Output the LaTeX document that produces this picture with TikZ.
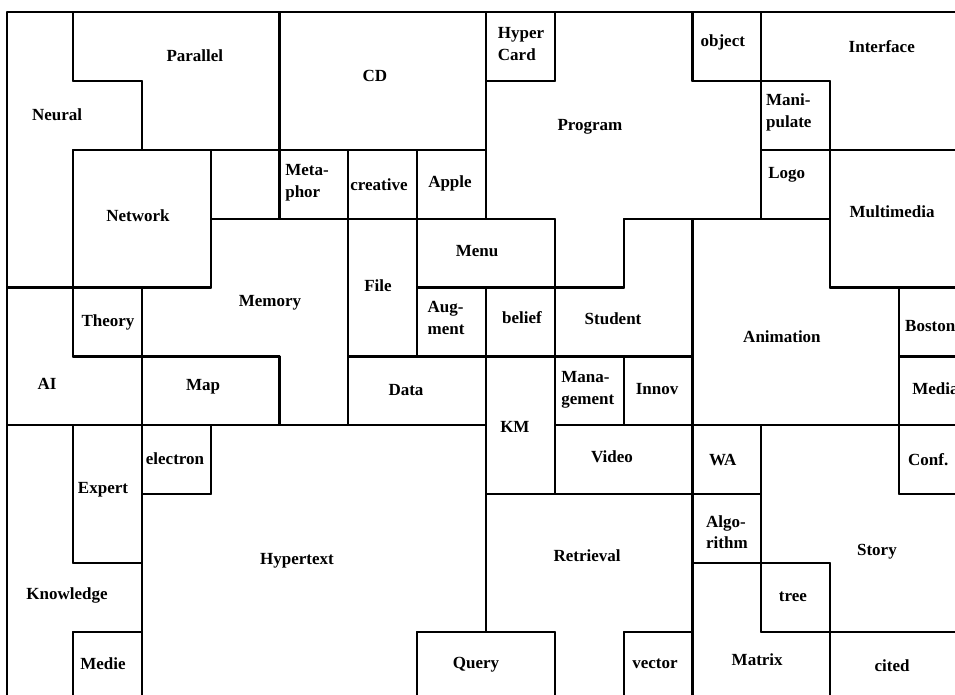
\documentclass[tikz,border=0pt]{standalone}
\usepackage{fontspec}
\setmainfont{Liberation Serif}
\begin{document}
\begin{tikzpicture}[x=68.83pt,y=-68.89pt,
  region/.style={draw=black,line width=2.2pt,line join=round},
  lbl/.style={font=\fontsize{17}{21.5}\selectfont\bfseries,inner sep=0pt,align=center},
  lbl2/.style={lbl,align=left}]
\def\L{0.041}
\clip (-0.0606,-0.1742) rectangle (13.814,9.900);
\fill[white] (-0.0606,-0.1742) rectangle (13.814,9.900);
% regions
\draw[region] (\L,0) -- (1,0) -- (1,1) -- (2,1) -- (2,2) -- (1,2) -- (1,4) -- (\L,4) -- cycle; % Neural
\draw[region] (1,0) -- (4,0) -- (4,2) -- (2,2) -- (2,1) -- (1,1) -- cycle; % Parallel
\draw[region] (4,0) rectangle (7,2); % CD
\draw[region] (7,0) rectangle (8,1); % HyperCard
\draw[region] (8,0) -- (10,0) -- (10,1) -- (11,1) -- (11,3) -- (9,3) -- (9,4) -- (8,4) -- (8,3) -- (7,3) -- (7,1) -- (8,1) -- cycle; % Program
\draw[region] (10,0) rectangle (11,1); % object
\draw[region] (11,0) -- (14,0) -- (14,2) -- (12,2) -- (12,1) -- (11,1) -- cycle; % Interface
\draw[region] (11,1) rectangle (12,2); % Manipulate
\draw[region] (11,2) rectangle (12,3); % Logo
\draw[region] (12,2) rectangle (14,4); % Multimedia
\draw[region] (1,2) rectangle (3,4); % Network
\draw[region] (3,2) rectangle (4,3); % empty
\draw[region] (4,2) rectangle (5,3); % Metaphor
\draw[region] (5,2) rectangle (6,3); % creative
\draw[region] (6,2) rectangle (7,3); % Apple
\draw[region] (3,3) -- (5,3) -- (5,6) -- (4,6) -- (4,5) -- (2,5) -- (2,4) -- (3,4) -- cycle; % Memory
\draw[region] (5,3) rectangle (6,5); % File
\draw[region] (6,3) rectangle (8,4); % Menu
\draw[region] (6,4) rectangle (7,5); % Augment
\draw[region] (7,4) rectangle (8,5); % belief
\draw[region] (9,3) -- (10,3) -- (10,5) -- (8,5) -- (8,4) -- (9,4) -- cycle; % Student
\draw[region] (10,3) -- (12,3) -- (12,4) -- (13,4) -- (13,6) -- (10,6) -- cycle; % Animation
\draw[region] (13,4) rectangle (14,5); % Boston
\draw[region] (13,5) rectangle (14,6); % Media
\draw[region] (1,4) rectangle (2,5); % Theory
\draw[region] (\L,4) -- (1,4) -- (1,5) -- (2,5) -- (2,6) -- (\L,6) -- cycle; % AI
\draw[region] (2,5) rectangle (4,6); % Map
\draw[region] (5,5) rectangle (7,6); % Data
\draw[region] (7,5) rectangle (8,7); % KM
\draw[region] (8,5) rectangle (9,6); % Management
\draw[region] (9,5) rectangle (10,6); % Innov
\draw[region] (8,6) rectangle (10,7); % Video
\draw[region] (10,6) rectangle (11,7); % WA
\draw[region] (11,6) -- (13,6) -- (13,7) -- (14,7) -- (14,9) -- (12,9) -- (12,8) -- (11,8) -- cycle; % Story
\draw[region] (13,6) rectangle (14,7); % Conf
\draw[region] (\L,6) -- (1,6) -- (1,8) -- (2,8) -- (2,9) -- (1,9) -- (1,10) -- (\L,10) -- cycle; % Knowledge
\draw[region] (1,6) rectangle (2,8); % Expert
\draw[region] (1,9) rectangle (2,10); % Medie
\draw[region] (2,6) rectangle (3,7); % electron
\draw[region] (3,6) -- (7,6) -- (7,9) -- (6,9) -- (6,10) -- (2,10) -- (2,7) -- (3,7) -- cycle; % Hypertext
\draw[region] (6,9) rectangle (8,10); % Query
\draw[region] (7,7) -- (10,7) -- (10,9) -- (9,9) -- (9,10) -- (8,10) -- (8,9) -- (7,9) -- cycle; % Retrieval
\draw[region] (9,9) rectangle (10,10); % vector
\draw[region] (10,7) rectangle (11,8); % Algorithm
\draw[region] (10,8) -- (11,8) -- (11,9) -- (12,9) -- (12,10) -- (10,10) -- cycle; % Matrix
\draw[region] (11,8) rectangle (12,9); % tree
\draw[region] (12,9) rectangle (14,10); % cited
% labels
\node[lbl] (parallel) at (2.77,0.64) {Parallel};
\node[lbl] (neural) at (0.77,1.495) {Neural};
\node[lbl] (network) at (1.944,2.96) {Network};
\node[lbl] (cd) at (5.387,0.93) {CD};
\node[lbl2] (hypercard) at (7.51,0.464) {Hyper\\Card};
\node[lbl] (program) at (8.51,1.67) {Program};
\node[lbl] (object) at (10.44,0.435) {object};
\node[lbl] (interface) at (12.75,0.508) {Interface};
\node[lbl2] (manipulate) at (11.40,1.459) {Mani-\\pulate};
\node[lbl] (logo) at (11.37,2.366) {Logo};
\node[lbl] (multimedia) at (12.90,2.90) {Multimedia};
\node[lbl2] (metaphor) at (4.40,2.475) {Meta-\\phor};
\node[lbl] (creative) at (5.446,2.511) {creative};
\node[lbl] (apple) at (6.477,2.482) {Apple};
\node[lbl] (memory) at (3.862,4.224) {Memory};
\node[lbl] (theory) at (1.508,4.50) {Theory};
\node[lbl] (ai) at (0.622,5.40) {AI};
\node[lbl] (map) at (2.89,5.443) {Map};
\node[lbl] (menu) at (6.87,3.469) {Menu};
\node[lbl] (file) at (5.431,3.977) {File};
\node[lbl2] (augment) at (6.42,4.44) {Aug-\\ment};
\node[lbl] (belief) at (7.523,4.44) {belief};
\node[lbl] (student) at (8.846,4.457) {Student};
\node[lbl] (data) at (5.838,5.487) {Data};
\node[lbl] (km) at (7.42,6.024) {KM};
\node[lbl2] (management) at (8.48,5.487) {Mana-\\gement};
\node[lbl] (innov) at (9.485,5.47) {Innov};
\node[lbl] (animation) at (11.30,4.718) {Animation};
\node[lbl,anchor=west] (boston) at (13.088,4.558) {Boston};
\node[lbl,anchor=west] (media) at (13.19,5.47) {Media};
\node[lbl,anchor=west] (conf) at (13.13,6.503) {Conf.};
\node[lbl] (wa) at (10.44,6.503) {WA};
\node[lbl] (video) at (8.83,6.46) {Video};
\node[lbl] (electron) at (2.482,6.489) {electron};
\node[lbl] (expert) at (1.436,6.939) {Expert};
\node[lbl] (knowledge) at (0.913,8.463) {Knowledge};
\node[lbl] (medie) at (1.436,9.464) {Medie};
\node[lbl] (hypertext) at (4.254,7.969) {Hypertext};
\node[lbl] (query) at (6.855,9.479) {Query};
\node[lbl] (retrieval) at (8.468,7.897) {Retrieval};
\node[lbl2] (algorithm) at (10.50,7.55) {Algo-\\rithm};
\node[lbl] (story) at (12.68,7.84) {Story};
\node[lbl] (tree) at (11.46,8.49) {tree};
\node[lbl] (vector) at (9.455,9.464) {vector};
\node[lbl] (matrix) at (10.94,9.406) {Matrix};
\node[lbl] (cited) at (12.90,9.49) {cited};
\end{tikzpicture}
\end{document}
